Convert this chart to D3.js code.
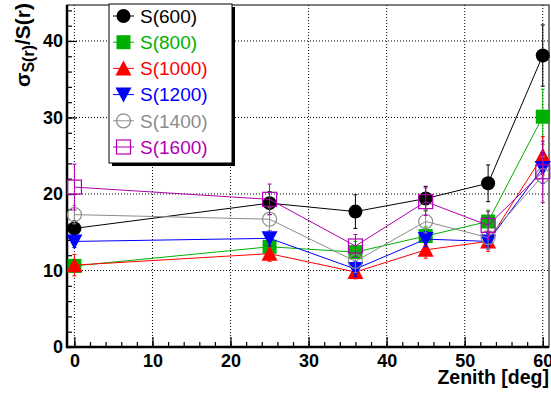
<!DOCTYPE html>
<html><head><meta charset="utf-8">
<script src="https://cdn.jsdelivr.net/npm/d3@7/dist/d3.min.js"></script>
<style>body{margin:0;background:#fff}svg{display:block}</style>
</head><body>
<svg id="c" width="551" height="398"></svg>
<script>
const zenith = [0, 25, 36, 45, 53, 60];
const seriesNames = ["S(600)", "S(800)", "S(1000)", "S(1200)", "S(1400)", "S(1600)"];
const s600  = [15.5, 18.8, 17.7, 19.4, 21.4, 38.1];
const s800  = [10.6, 13.1, 12.4, 14.5, 16.4, 30.1];
const s1000 = [10.7, 12.2, 9.8, 12.7, 13.8, 25.0];
const s1200 = [13.8, 14.2, 10.2, 14.1, 13.8, 23.4];
const s1400 = [17.3, 16.7, 11.2, 16.4, 14.3, 22.4];
const s1600 = [20.9, 19.3, 13.2, 19.0, 15.9, 22.9];
const e600  = [1.0, 1.5, 2.2, 1.6, 2.4, 4.0];
const e800  = [0.8, 1.2, 1.4, 1.2, 1.5, 3.6];
const e1000 = [1.4, 1.0, 0.9, 1.1, 1.3, 2.5];
const e1200 = [0.8, 1.0, 1.0, 1.0, 1.0, 2.0];
const e1400 = [1.2, 1.5, 1.5, 1.5, 1.5, 2.5];
const e1600 = [3.0, 2.0, 1.5, 1.8, 1.8, 4.0];
const xTicks = [0, 10, 20, 30, 40, 50, 60];
const yTicks = [0, 10, 20, 30, 40];

const colors  = ["#000000", "#00b000", "#ff0000", "#0000ff", "#8c8c8c", "#b000b0"];
const markers = ["circle", "square", "triUp", "triDown", "openCircle", "openSquare"];
const values = [s600, s800, s1000, s1200, s1400, s1600];
const errors = [e600, e800, e1000, e1200, e1400, e1600];

const L = 67, R = 549, T = 5, B = 347;
const x = d3.scaleLinear().domain([-0.95, 60.8]).range([L, R]);
const y = d3.scaleLinear().domain([0, 44.7]).range([B, T]);
const svg = d3.select("#c");
const font = "'Liberation Sans', Arial, Helvetica, sans-serif";

// grid
const g = svg.append("g");
g.selectAll("line.gx").data(xTicks).join("line")
  .attr("x1", d => x(d)).attr("x2", d => x(d)).attr("y1", T).attr("y2", B)
  .attr("stroke", "#000").attr("stroke-width", 1).attr("stroke-dasharray", "1,2");
g.selectAll("line.gy").data(yTicks.filter(d => d > 0)).join("line")
  .attr("x1", L).attr("x2", R).attr("y1", d => y(d)).attr("y2", d => y(d))
  .attr("stroke", "#000").attr("stroke-width", 1).attr("stroke-dasharray", "1,2");

// axes with inward ticks
const xMinor = d3.range(0, 61, 2);
const yMinor = d3.range(0, 45, 2);
const xAxis = svg.append("g").attr("transform", `translate(0,${B})`)
  .call(d3.axisBottom(x).tickValues(xMinor).tickSize(-5).tickFormat(""));
xAxis.select(".domain").remove();
const xAxisMaj = svg.append("g").attr("transform", `translate(0,${B})`)
  .call(d3.axisBottom(x).tickValues(xTicks).tickSize(-10).tickPadding(7).tickFormat(d3.format("d")));
xAxisMaj.select(".domain").remove();
xAxisMaj.selectAll("text").attr("font-family", font).attr("font-weight", "bold").attr("font-size", 18).attr("fill", "#000");
const yAxis = svg.append("g").attr("transform", `translate(${L},0)`)
  .call(d3.axisLeft(y).tickValues(yMinor).tickSize(-5).tickFormat(""));
yAxis.select(".domain").remove();
const yAxisMaj = svg.append("g").attr("transform", `translate(${L},0)`)
  .call(d3.axisLeft(y).tickValues(yTicks).tickSize(-10).tickPadding(4).tickFormat(d3.format("d")));
yAxisMaj.select(".domain").remove();
yAxisMaj.selectAll("text").attr("font-family", font).attr("font-weight", "bold").attr("font-size", 18).attr("fill", "#000");
svg.selectAll(".tick line").attr("stroke", "#000").attr("stroke-width", 1.2);

// frame
svg.append("rect").attr("x", L).attr("y", T).attr("width", R - L).attr("height", B - T)
  .attr("fill", "none").attr("stroke", "#000").attr("stroke-width", 1);
svg.append("line").attr("x1", L).attr("x2", L).attr("y1", T).attr("y2", B + 1).attr("stroke", "#000").attr("stroke-width", 2.5);
svg.append("line").attr("x1", L - 1).attr("x2", R).attr("y1", B).attr("y2", B).attr("stroke", "#000").attr("stroke-width", 2.5);

// marker drawer
function drawMarker(sel, type, color) {
  const s = 7;
  if (type === "circle") sel.append("circle").attr("r", s).attr("fill", color);
  else if (type === "openCircle") sel.append("circle").attr("r", s).attr("fill", "none").attr("stroke", color).attr("stroke-width", 1.2);
  else if (type === "square") sel.append("rect").attr("x", -s).attr("y", -s).attr("width", 2 * s).attr("height", 2 * s).attr("fill", color);
  else if (type === "openSquare") sel.append("rect").attr("x", -s).attr("y", -s).attr("width", 2 * s).attr("height", 2 * s).attr("fill", "none").attr("stroke", color).attr("stroke-width", 1.2);
  else if (type === "triUp") sel.append("path").attr("d", `M0,${-s - 1}L${s + 1},${s}L${-s - 1},${s}Z`).attr("fill", color);
  else if (type === "triDown") sel.append("path").attr("d", `M0,${s + 1}L${s + 1},${-s}L${-s - 1},${-s}Z`).attr("fill", color);
}

// series
const line = d3.line().x(d => x(d[0])).y(d => y(d[1]));
values.forEach((vals, i) => {
  const pts = zenith.map((z, j) => [z, vals[j], errors[i][j]]);
  const sg = svg.append("g");
  sg.append("path").attr("d", line(pts)).attr("fill", "none").attr("stroke", colors[i]).attr("stroke-width", 1);
  pts.forEach(p => {
    const eg = sg.append("g");
    eg.append("line").attr("x1", x(p[0])).attr("x2", x(p[0])).attr("y1", y(p[1] - p[2])).attr("y2", y(p[1] + p[2]))
      .attr("stroke", colors[i]).attr("stroke-width", 1);
    [p[1] - p[2], p[1] + p[2]].forEach(v => eg.append("line")
      .attr("x1", x(p[0]) - 2).attr("x2", x(p[0]) + 2).attr("y1", y(v)).attr("y2", y(v))
      .attr("stroke", colors[i]).attr("stroke-width", 1));
    const mg = sg.append("g").attr("transform", `translate(${x(p[0])},${y(p[1])})`);
    drawMarker(mg, markers[i], colors[i]);
  });
});

// legend
const lx = 109, ly = 4, lw = 123, lh = 159;
svg.append("rect").attr("x", lx + 3).attr("y", ly + 3).attr("width", lw).attr("height", lh).attr("fill", "#000");
svg.append("rect").attr("x", lx).attr("y", ly).attr("width", lw).attr("height", lh).attr("fill", "#fff").attr("stroke", "#000").attr("stroke-width", 1);
seriesNames.forEach((name, i) => {
  const cy = 16 + i * 26.2;
  svg.append("line").attr("x1", 113).attr("x2", 134).attr("y1", cy).attr("y2", cy).attr("stroke", colors[i]).attr("stroke-width", 1);
  const mg = svg.append("g").attr("transform", `translate(123.5,${cy})`);
  drawMarker(mg, markers[i], colors[i]);
  svg.append("text").attr("x", 140).attr("y", cy).attr("dy", "0.36em").attr("font-family", font)
    .attr("font-size", 19).attr("fill", colors[i]).text(name);
});

// axis titles
svg.append("text").attr("x", R).attr("y", 384).attr("text-anchor", "end").attr("font-family", font)
  .attr("font-weight", "bold").attr("font-size", 19.5).text("Zenith [deg]");
const yt = svg.append("text").attr("transform", "translate(30,3) rotate(-90)").attr("text-anchor", "end")
  .attr("font-family", font).attr("font-weight", "bold").attr("font-size", 21);
yt.append("tspan").text("σ");
yt.append("tspan").attr("font-size", 16).attr("dy", 4).text("S(r)");
yt.append("tspan").attr("dy", -4).text("/S(r)");
</script>
</body></html>
